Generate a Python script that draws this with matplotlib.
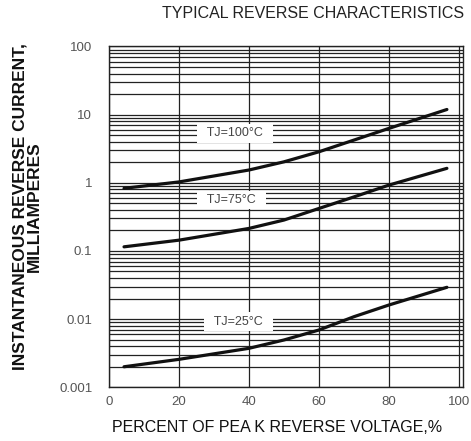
import numpy as np
import matplotlib
matplotlib.use("Agg")
import matplotlib.pyplot as plt
from matplotlib.ticker import LogLocator, FixedLocator, NullFormatter

plt.rcParams['font.family'] = ['Liberation Sans', 'DejaVu Sans']

# du lieu doc tu hinh (% dien ap nguoc dinh, dong nguoc mA)
x_pct = [4.3, 20, 40, 50, 60, 70, 80, 96.6]
i_100 = [0.83, 1.03, 1.54, 2.03, 2.85, 4.23, 6.28, 11.9]
i_75 = [0.115, 0.144, 0.214, 0.284, 0.42, 0.62, 0.925, 1.63]
i_25 = [0.0020, 0.00257, 0.00373, 0.00494, 0.00692, 0.01084, 0.0161, 0.0293]

curve_labels = ["TJ=100°C", "TJ=75°C", "TJ=25°C"]
label_x = [36.1, 35.1, 36.9]
label_y = [5.3, 0.557, 0.0092]

x_ticks = [0, 20, 40, 60, 80, 100]
y_ticks = [0.001, 0.01, 0.1, 1, 10, 100]
y_tick_labels = ["0.001", "0.01", "0.1", "1", "10", "100"]

fig = plt.figure(figsize=(4.71, 4.41), dpi=100)
ax = fig.add_axes([0.2314, 0.1218, 0.7516, 0.7728])

for series in (i_100, i_75, i_25):
    ax.plot(x_pct, series, color='#111111', lw=2.3, solid_capstyle='round', zorder=4)

ax.set_yscale('log')
ax.set_xlim(0, 101.2)
ax.set_ylim(0.001, 100)

ax.xaxis.set_major_locator(FixedLocator(x_ticks))
ax.set_xticklabels([str(t) for t in x_ticks])
ax.yaxis.set_major_locator(FixedLocator(y_ticks))
ax.set_yticklabels(y_tick_labels)
ax.yaxis.set_minor_locator(LogLocator(base=10, subs=range(2, 10)))
ax.yaxis.set_minor_formatter(NullFormatter())

ax.grid(which='both', axis='y', color='#222222', lw=0.9)
ax.grid(which='major', axis='x', color='#222222', lw=0.9)
ax.tick_params(which='both', length=0, labelsize=9.5, labelcolor='#555555')
ax.tick_params(axis='y', pad=12)
ax.tick_params(axis='x', pad=6)
for s in ax.spines.values():
    s.set_color('#222222')
    s.set_linewidth(1.0)

# nhan tung duong cong, nen trang che luoi
for txt, lx, ly in zip(curve_labels, label_x, label_y):
    ax.text(lx, ly, "  " + txt + "  ", ha='center', va='center', fontsize=9,
            color='#444444', zorder=5,
            bbox=dict(boxstyle='square,pad=0.25', fc='white', ec='none'))

fig.text(313 / 471, 1 - 14 / 441, "TYPICAL REVERSE CHARACTERISTICS",
         ha='center', va='center', fontsize=11.5, color='#222222')
fig.text(277 / 471, 1 - 427 / 441, "PERCENT OF PEA K REVERSE VOLTAGE,%",
         ha='center', va='center', fontsize=11.5, color='#111111')
# nhan truc y hai dong, sat nhau nhu ban goc
fig.text(27 / 471, 1 - 207 / 441, "INSTANTANEOUS REVERSE CURRENT,\nMILLIAMPERES",
         ha='center', va='center', rotation=90, fontsize=12.5,
         fontweight='bold', color='#111111', multialignment='center',
         linespacing=0.95)

fig.savefig('out.png', dpi=100)
